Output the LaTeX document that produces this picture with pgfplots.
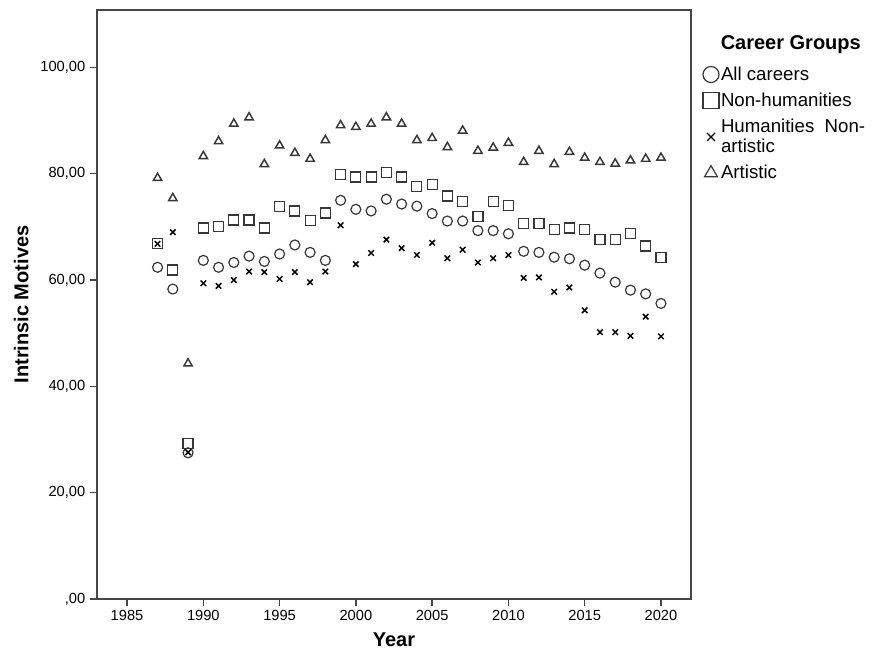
\documentclass[border=0pt]{standalone}
\usepackage{fontspec}
\setmainfont{Liberation Sans}
\usepackage{pgfplots}
\pgfplotsset{compat=1.18}
\definecolor{mk}{RGB}{55,55,55}
\definecolor{axline}{RGB}{70,70,70}

\begin{document}
\begin{tikzpicture}
\begin{axis}[
  width=445.5pt,height=441.75pt,
  scale only axis,
  clip mode=individual,
  xmin=1983.03,xmax=2021.97,
  ymin=0,ymax=110.8,
  xtick={1985,1990,...,2020},
  ytick={0,20,40,60,80,100},
  yticklabels={{,00},{20,00},{40,00},{60,00},{80,00},{100,00}},
  /pgf/number format/assume math mode=true,
  xticklabel style={/pgf/number format/1000 sep={}},
  tick label style={font=\fontsize{11}{13}\selectfont},
  tick align=outside,
  tick pos=left,
  major tick length=5.25pt,
  axis line style={axline,line width=1.1pt},
  every tick/.style={axline,line width=1.1pt},
  xlabel={\textbf{Year}},
  ylabel={\textbf{Intrinsic Motives}},
  label style={font=\fontsize{15}{18}\selectfont},
  xlabel style={yshift=-2pt},
  ylabel style={yshift=2pt},
  legend image code/.code={\draw[#1] plot coordinates {(0pt,0pt)};},
  legend cell align=left,
  legend style={draw=none,fill=none,
    at={(axis description cs:1.013,0.912)},anchor=north west,
    font=\fontsize{14}{15}\selectfont,
    cells={align=left},
    row sep=5pt,
    nodes={inner sep=1.5pt}},
]
% All careers
\addplot[only marks,mark=o,mark size=3.75pt,mk,line width=0.9pt,forget plot] coordinates {
  (1987,62.4) (1988,58.3) (1989,27.5) (1990,63.7) (1991,62.4) (1992,63.3)
  (1993,64.5) (1994,63.5) (1995,64.9) (1996,66.6) (1997,65.2) (1998,63.7)
  (1999,75.0) (2000,73.3) (2001,73.0) (2002,75.2) (2003,74.3) (2004,73.9)
  (2005,72.5) (2006,71.1) (2007,71.1) (2008,69.3) (2009,69.3) (2010,68.7)
  (2011,65.4) (2012,65.2) (2013,64.3) (2014,64.0) (2015,62.8) (2016,61.3)
  (2017,59.6) (2018,58.1) (2019,57.4) (2020,55.6)
};
% Non-humanities
\addplot[only marks,mark=square,mark size=3.75pt,mk,line width=0.9pt,forget plot] coordinates {
  (1987,66.9) (1988,61.9) (1989,29.2) (1990,69.8) (1991,70.1) (1992,71.3)
  (1993,71.3) (1994,69.8) (1995,73.9) (1996,73.0) (1997,71.2) (1998,72.6)
  (1999,79.9) (2000,79.4) (2001,79.4) (2002,80.2) (2003,79.4) (2004,77.6)
  (2005,78.0) (2006,75.8) (2007,74.8) (2008,72.0) (2009,74.8) (2010,74.0)
  (2011,70.7) (2012,70.6) (2013,69.5) (2014,69.8) (2015,69.5) (2016,67.7)
  (2017,67.7) (2018,68.8) (2019,66.4) (2020,64.3)
};
% Humanities Non-artistic
\addplot[only marks,mark=x,mark size=2.9pt,black,line width=1.1pt,forget plot] coordinates {
  (1987,66.8) (1988,69.0) (1989,27.6) (1990,59.4) (1991,58.9) (1992,60.0)
  (1993,61.6) (1994,61.5) (1995,60.2) (1996,61.5) (1997,59.6) (1998,61.6)
  (1999,70.3) (2000,63.0) (2001,65.1) (2002,67.6) (2003,66.0) (2004,64.7)
  (2005,67.0) (2006,64.1) (2007,65.7) (2008,63.3) (2009,64.1) (2010,64.7)
  (2011,60.4) (2012,60.5) (2013,57.8) (2014,58.6) (2015,54.3) (2016,50.2)
  (2017,50.2) (2018,49.5) (2019,53.1) (2020,49.4)
};
% Artistic
\addplot[only marks,mark=triangle,mark size=3.6pt,mk,line width=1.1pt,forget plot] coordinates {
  (1987,79.2) (1988,75.4) (1989,44.3) (1990,83.3) (1991,86.1) (1992,89.4)
  (1993,90.6) (1994,81.8) (1995,85.3) (1996,83.9) (1997,82.8) (1998,86.3)
  (1999,89.1) (2000,88.8) (2001,89.4) (2002,90.6) (2003,89.4) (2004,86.3)
  (2005,86.7) (2006,85.0) (2007,88.1) (2008,84.3) (2009,84.9) (2010,85.8)
  (2011,82.2) (2012,84.3) (2013,81.8) (2014,84.1) (2015,83.0) (2016,82.2)
  (2017,81.9) (2018,82.5) (2019,82.8) (2020,83.0)
};
\addlegendimage{only marks,mark=o,mark size=6pt,mk,line width=0.9pt}
\addlegendentry{All careers}
\addlegendimage{only marks,mark=square,mark size=6pt,mk,line width=0.9pt}
\addlegendentry{Non-humanities}
\addlegendimage{only marks,mark=x,mark size=4.2pt,black,line width=0.9pt}
\addlegendentry{Humanities\ \ Non-\\artistic}
\addlegendimage{only marks,mark=triangle,mark size=5.6pt,mk,line width=0.9pt}
\addlegendentry{Artistic}
\node[font=\bfseries\fontsize{15}{18}\selectfont] at (axis description cs:1.168,0.942) {Career Groups};
\end{axis}
\path (-72.75pt,-43.5pt) rectangle (582pt,449.25pt);
\end{tikzpicture}
\end{document}
